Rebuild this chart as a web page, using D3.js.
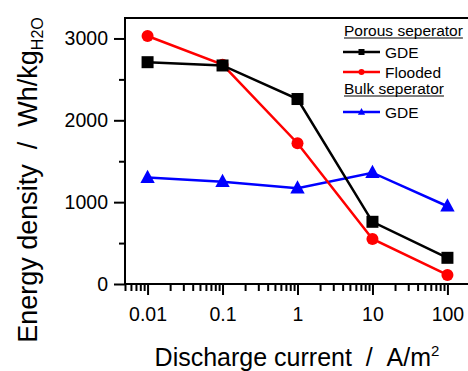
<!DOCTYPE html>
<html>
<head>
<meta charset="utf-8">
<script src="https://cdn.jsdelivr.net/npm/d3@7"></script>
<style>
  body { margin: 0; background: #fff; }
  svg { display: block; font-family: "Liberation Sans", Arial, sans-serif; }
</style>
</head>
<body>
<svg id="chart" width="468" height="371"></svg>
<script>
// discharge current, A/m^2
const currents = [0.01, 0.1, 1, 10, 100];
const xTickLabels = ['0.01', '0.1', '1', '10', '100'];
const yTicks = [0, 1000, 2000, 3000];

// energy density, Wh/kg H2O
const porousGDE = [2710, 2670, 2260, 760, 320];
const porousFlooded = [3030, 2680, 1720, 550, 110];
const bulkGDE = [1300, 1250, 1170, 1360, 950];

const series = [
  {name: 'GDE', values: porousGDE, color: '#000000', shape: 'square'},
  {name: 'Flooded', values: porousFlooded, color: '#ff0000', shape: 'circle'},
  {name: 'GDE', values: bulkGDE, color: '#0000ff', shape: 'triangle'}
];

const margin = {left: 125, top: 18, right: 470, bottom: 284};

const svg = d3.select('#chart');

const x = d3.scaleLog()
  .domain([0.005, 200])
  .range([margin.left, margin.right]);

const y = d3.scaleLinear()
  .domain([0, 3250])
  .range([margin.bottom, margin.top]);

// minor ticks on the log axis
const minorX = [];
for (let e = -3; e <= 2; e++) {
  for (let m = 2; m <= 9; m++) {
    const v = m * Math.pow(10, e);
    if (v >= 0.005 && v <= 200) minorX.push(v);
  }
}

const xMajor = d3.axisBottom(x)
  .tickValues(currents)
  .tickFormat((d, i) => xTickLabels[i])
  .tickSize(11)
  .tickPadding(12);

const xMinor = d3.axisBottom(x)
  .tickValues(minorX)
  .tickFormat('')
  .tickSize(7);

const yMajor = d3.axisLeft(y)
  .tickValues(yTicks)
  .tickFormat(d3.format('d'))
  .tickSize(11)
  .tickPadding(6);

const yMinor = d3.axisLeft(y)
  .tickValues([500, 1500, 2500])
  .tickFormat('')
  .tickSize(6);

function styleAxis(g) {
  g.select('.domain').remove();
  g.selectAll('line').attr('stroke', '#000').attr('stroke-width', 2);
  g.selectAll('text').attr('fill', '#000').attr('font-size', 19.5)
    .attr('font-family', '"Liberation Sans", Arial, sans-serif');
}

svg.append('g').attr('transform', `translate(0,${margin.bottom})`).call(xMinor).call(styleAxis);
svg.append('g').attr('transform', `translate(0,${margin.bottom})`).call(xMajor).call(styleAxis);
svg.append('g').attr('transform', `translate(${margin.left},0)`).call(yMinor).call(styleAxis);
svg.append('g').attr('transform', `translate(${margin.left},0)`).call(yMajor).call(styleAxis);

// frame
svg.append('rect')
  .attr('x', margin.left)
  .attr('y', margin.top)
  .attr('width', margin.right - margin.left)
  .attr('height', margin.bottom - margin.top)
  .attr('fill', 'none')
  .attr('stroke', '#000')
  .attr('stroke-width', 2);

const line = d3.line()
  .x((d, i) => x(currents[i]))
  .y(d => y(d));

function drawMarker(g, shape, color, size) {
  if (shape === 'square') {
    g.append('rect').attr('x', -size / 2).attr('y', -size / 2)
      .attr('width', size).attr('height', size).attr('fill', color);
  } else if (shape === 'circle') {
    g.append('circle').attr('r', size / 2).attr('fill', color);
  } else {
    const w = size * 1.2;
    const h = size * 1.1;
    g.append('path')
      .attr('d', `M0,${-h * 0.6}L${w / 2},${h * 0.4}L${-w / 2},${h * 0.4}Z`)
      .attr('fill', color);
  }
}

// blue underneath, black on top
[series[2], series[1], series[0]].forEach(s => {
  svg.append('path')
    .datum(s.values)
    .attr('d', line)
    .attr('fill', 'none')
    .attr('stroke', s.color)
    .attr('stroke-width', 2.5);
  s.values.forEach((v, i) => {
    const g = svg.append('g').attr('transform', `translate(${x(currents[i])},${y(v)})`);
    drawMarker(g, s.shape, s.color, 12);
  });
});

// legend
const legend = svg.append('g').attr('font-size', 15.5).attr('fill', '#000');

function legendTitle(text, ty) {
  const t = legend.append('text').attr('x', 344).attr('y', ty).text(text);
  const w = t.node().getComputedTextLength();
  legend.append('line')
    .attr('x1', 344).attr('x2', 344 + w)
    .attr('y1', ty + 2).attr('y2', ty + 2)
    .attr('stroke', '#000').attr('stroke-width', 1.2);
}

function legendRow(s, ly) {
  legend.append('line')
    .attr('x1', 343).attr('x2', 380)
    .attr('y1', ly).attr('y2', ly)
    .attr('stroke', s.color).attr('stroke-width', 2.5);
  const g = legend.append('g').attr('transform', `translate(361.5,${ly})`);
  drawMarker(g, s.shape, s.color, 6);
  legend.append('text').attr('x', 385).attr('y', ly + 5.5).text(s.name);
}

legendTitle('Porous seperator', 36);
legendRow(series[0], 52);
legendRow(series[1], 72);
legendTitle('Bulk seperator', 94);
legendRow(series[2], 112);

// axis titles
svg.append('text')
  .attr('x', 297)
  .attr('y', 366)
  .attr('text-anchor', 'middle')
  .attr('font-size', 25)
  .attr('fill', '#000')
  .html('Discharge current&#160;&#160;/&#160;&#160;A/m<tspan dy="-10" font-size="15">2</tspan>');

svg.append('text')
  .attr('transform', 'translate(37,180) rotate(-90)')
  .attr('text-anchor', 'middle')
  .attr('font-size', 27)
  .attr('fill', '#000')
  .html('Energy density&#160;&#160;/&#160;&#160;Wh/kg<tspan dy="6" font-size="16">H2O</tspan>');
</script>
</body>
</html>
